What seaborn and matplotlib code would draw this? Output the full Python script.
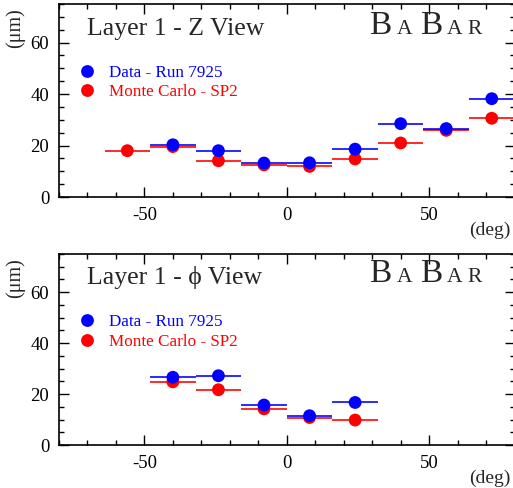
import numpy as np
import pandas as pd
import matplotlib
matplotlib.use("Agg")
import matplotlib.pyplot as plt
from matplotlib.ticker import MultipleLocator
import seaborn as sns

# ---- data ----
angle = [-56, -40, -24, -8, 8, 24, 40, 56, 72]
half_width = 8

z_data = [np.nan, 20.3, 18.0, 13.2, 13.3, 18.6, 28.5, 26.6, 38.2]
z_data_err = [0, 1.0, 1.0, 1.0, 1.0, 1.0, 2.0, 1.0, 1.0]
z_mc = [18.0, 19.6, 14.1, 12.5, 11.9, 14.8, 21.0, 25.9, 30.6]
z_mc_err = [0.8, 0.8, 0.8, 0.8, 0.8, 0.8, 0.8, 0.8, 0.8]

phi_data = [np.nan, 26.6, 27.2, 15.7, 11.5, 16.7, np.nan, np.nan, np.nan]
phi_data_err = [0, 1.0, 1.0, 1.0, 1.0, 1.0, 0, 0, 0]
phi_mc = [np.nan, 24.8, 21.7, 14.2, 10.8, 9.8, np.nan, np.nan, np.nan]
phi_mc_err = [0, 0.8, 0.8, 0.8, 0.8, 0.8, 0, 0, 0]

data_label = "Data - Run 7925"
mc_label = "Monte Carlo - SP2"
titles = ["Layer 1 - Z View", "Layer 1 - \u03d5 View"]

sns.set_theme(style="ticks")
plt.rcParams["font.family"] = ["Liberation Serif", "DejaVu Serif"]
plt.rcParams["axes.unicode_minus"] = False

fig = plt.figure(figsize=(5.13, 4.88), dpi=100)
ax1 = fig.add_axes([0.115, 0.5963, 0.888, 0.3955])
ax2 = fig.add_axes([0.115, 0.0881, 0.888, 0.3914])

palette = {data_label: "#0000ff", mc_label: "#ff0000"}

def make_df(data, data_err, mc, mc_err):
    rows = []
    for a, v, e in zip(angle, mc, mc_err):
        rows.append(dict(angle=a, value=v, err=e, series=mc_label))
    for a, v, e in zip(angle, data, data_err):
        rows.append(dict(angle=a, value=v, err=e, series=data_label))
    return pd.DataFrame(rows).dropna()

panels = [
    (ax1, make_df(z_data, z_data_err, z_mc, z_mc_err), titles[0], 0.838, 0.842),
    (ax2, make_df(phi_data, phi_data_err, phi_mc, phi_mc_err), titles[1], 0.842, 0.852),
]

for ax, df, title, ty, by in panels:
    for s in [mc_label, data_label]:
        d = df[df.series == s]
        ax.errorbar(d.angle, d.value, xerr=half_width, yerr=d.err, fmt="none",
                    ecolor=palette[s], elinewidth=1.3, capsize=0, zorder=2, alpha=0.9)
    sns.scatterplot(data=df, x="angle", y="value", hue="series",
                    hue_order=[data_label, mc_label], palette=palette,
                    s=85, edgecolor="none", ax=ax, zorder=3)
    ax.set_xlim(-80, 80)
    ax.set_ylim(0, 75)
    ax.xaxis.set_major_locator(MultipleLocator(50))
    ax.xaxis.set_minor_locator(MultipleLocator(10))
    ax.yaxis.set_major_locator(MultipleLocator(20))
    ax.yaxis.set_minor_locator(MultipleLocator(5))
    ax.tick_params(which="both", direction="in", top=True, right=True,
                   labelsize=13.5, width=1.0, colors="black")
    ax.tick_params(which="major", length=7, pad=7)
    ax.tick_params(which="minor", length=3.5)
    for sp in ax.spines.values():
        sp.set_linewidth(1.2)
        sp.set_color("black")
    ax.set_xlabel("(deg)", fontsize=14)
    ax.xaxis.set_label_coords(0.945, -0.13)
    ax.set_ylabel("(\u03bcm)", fontsize=14.5)
    ax.yaxis.set_label_coords(-0.075, 0.875)
    ax.text(0.062, ty, title, transform=ax.transAxes, fontsize=18.5,
            va="baseline", ha="left")
    # BaBar logo in small caps style
    letters = [("B", 24, 0.681), ("A", 15.5, 0.741), ("B", 24, 0.792),
               ("A", 15.5, 0.851), ("R", 15.5, 0.897)]
    for ch, fs, lx in letters:
        ax.text(lx, by, ch, transform=ax.transAxes, fontsize=fs,
                va="baseline", ha="left")
    handles, labels = ax.get_legend_handles_labels()
    leg = ax.legend(handles, labels, loc="upper left",
                    bbox_to_anchor=(0.024, 0.72), frameon=False, fontsize=12.3,
                    handletextpad=0.7, labelspacing=0.2, borderaxespad=0,
                    markerscale=1.0, handlelength=1.2)
    for txt, lab in zip(leg.get_texts(), labels):
        txt.set_color(palette[lab])

fig.savefig("out.png", dpi=100)
